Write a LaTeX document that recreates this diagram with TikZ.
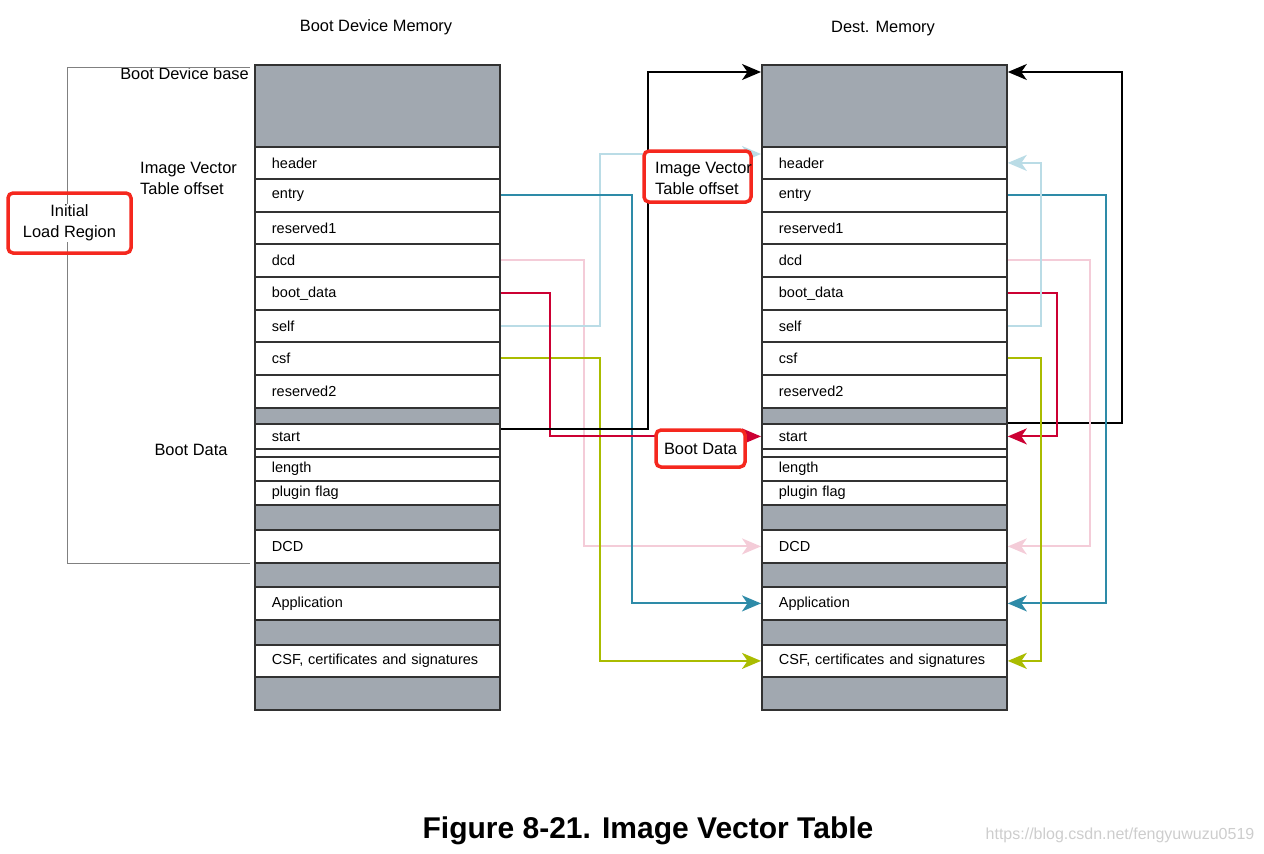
\documentclass[tikz,border=0pt]{standalone}
\usepackage{fontspec}
\setmainfont{Liberation Sans}
\usetikzlibrary{arrows.meta,calc}
\definecolor{rowgray}{RGB}{161,168,176}
\definecolor{rowline}{RGB}{50,50,50}
\definecolor{lblue}{RGB}{186,220,230}
\definecolor{tealc}{RGB}{46,139,168}
\definecolor{pinkc}{RGB}{244,204,216}
\definecolor{crim}{RGB}{204,0,51}
\definecolor{olivec}{RGB}{170,188,0}
\definecolor{hired}{RGB}{245,40,30}
\definecolor{wmc}{RGB}{205,205,205}
\newcommand{\lbl}{\fontsize{14.5}{20}\selectfont}
\newcommand{\olbl}{\fontsize{16.4}{21}\selectfont}
\begin{document}
\begin{tikzpicture}[x=1pt,y=-1pt,
  cell/.style={draw=rowline, line width=1.8pt, fill=white, minimum width=245pt, text width=211pt,
    inner xsep=17pt, inner ysep=0pt, align=left, anchor=north west, font=\lbl},
  grey/.style={cell, fill=rowgray},
  conn/.style={line width=2pt, -{Stealth[length=19pt,width=16pt,inset=5.5pt]}},
  hlbox/.style={draw=hired, line width=3.5pt, rounded corners=5pt},
  lab/.style={font=\olbl, inner sep=0pt}]
\useasboundingbox (0,0) rectangle (1264,854);

\foreach \side/\x in {L/254, R/761} {
  \foreach \nm/\tp/\h/\txt/\st in {
    top/64/82/{}/grey,
    header/146/32/header/cell,
    entry/178/33/entry/cell,
    resA/211/32/reserved1/cell,
    dcd/243/33/dcd/cell,
    boot/276/33/boot\_data/cell,
    self/309/32/self/cell,
    csf/341/33/csf/cell,
    resB/374/33/reserved2/cell,
    gA/407/16/{}/grey,
    start/423/25/start/cell,
    gap/448/8/{}/cell,
    length/456/24/length/cell,
    plugin/480/24/plugin flag/cell,
    gB/504/25/{}/grey,
    DCD/529/33/DCD/cell,
    gC/562/24/{}/grey,
    app/586/33/Application/cell,
    gD/619/25/{}/grey,
    CSF/644/32/{CSF, certificates and signatures}/cell,
    gE/676/33/{}/grey} {
    \node[\st, minimum height=\h pt] (\side\nm) at (\x,\tp) {\txt};
  }
}

% titles
\node[lab] (t1) at (376,27) {Boot Device Memory};
\node[lab] (t2) at (883,29) {Dest. Memory};
\node[lab, anchor=east] (bdb) at (249,74) {Boot Device base};
\node[lab, anchor=west, align=left] (ivt) at (140,178.5) {Image Vector\\Table offset};
\node[lab] (bd) at (191,450) {Boot Data};

% initial load region bracket
\coordinate (br1) at (250,67);
\coordinate (br2) at (250,563);
\draw[gray, line width=0.8pt] (br1) -- ++(-183,0) |- (br2);
\node[hlbox, minimum width=123pt, minimum height=60pt] (ilr) at (69.5,223) {};
\node[lab, fill=white, inner sep=1pt, align=center] (ilrt) at (ilr.center) {Initial\\Load Region};

% coordinates for special connector ends
\coordinate (ls) at ($(Lstart.north east)+(0,6)$);
\coordinate (rt) at ($(Rtop.north west)+(0,8)$);
\coordinate (rte) at ($(Rtop.north east)+(0,8)$);
\coordinate (rh) at ($(Rheader.north west)+(0,8)$);

% left-to-right connectors
\draw[conn, pinkc] (Ldcd.east) -- ++(83,0) |- (RDCD.west);
\draw[conn, olivec] (Lcsf.east) -- ++(99,0) |- (RCSF.west);
\draw[conn, lblue] (Lself.east) -- ++(99,0) |- (rh);
\draw[conn, tealc] (Lentry.east) -- ++(131,0) |- (Rapp.west);
\draw[conn, crim] (Lboot.east) -- ++(49,0) |- (Rstart.west);
\draw[conn, black] (ls) -- ++(147,0) |- (rt);

% right-side connectors
\draw[conn, black] (Rstart.north east) -- ++(114,0) |- (rte);
\draw[conn, pinkc] (Rdcd.east) -- ++(82,0) |- (RDCD.east);
\draw[conn, tealc] (Rentry.east) -- ++(98,0) |- (Rapp.east);
\draw[conn, crim] (Rboot.east) -- ++(49,0) |- (Rstart.east);
\draw[conn, lblue] (Rself.east) -- ++(33,0) |- (Rheader.east);
\draw[conn, olivec] (Rcsf.east) -- ++(33,0) |- (RCSF.east);

% highlight boxes
\node[hlbox, fill=white, minimum width=107pt, minimum height=51pt] (ivtbox) at (697.5,176.5) {};
\node[lab, anchor=west, align=left] (ivtt) at (655,178) {Image Vector\\Table offset};
\node[hlbox, fill=white, minimum width=89pt, minimum height=37pt] (bdbox) at (700.5,448.5) {};
\node[lab] (bdt) at (bdbox.center) {Boot Data};

% caption
\node[inner sep=0pt, font=\fontsize{30}{36}\selectfont\bfseries] (cap) at (648,831) {Figure 8-21. Image Vector Table};
\node[inner sep=0pt, text=wmc, font=\fontsize{16}{18}\selectfont] (wmk) at (1120,835) {https://blog.csdn.net/fengyuwuzu0519};
\end{tikzpicture}
\end{document}
